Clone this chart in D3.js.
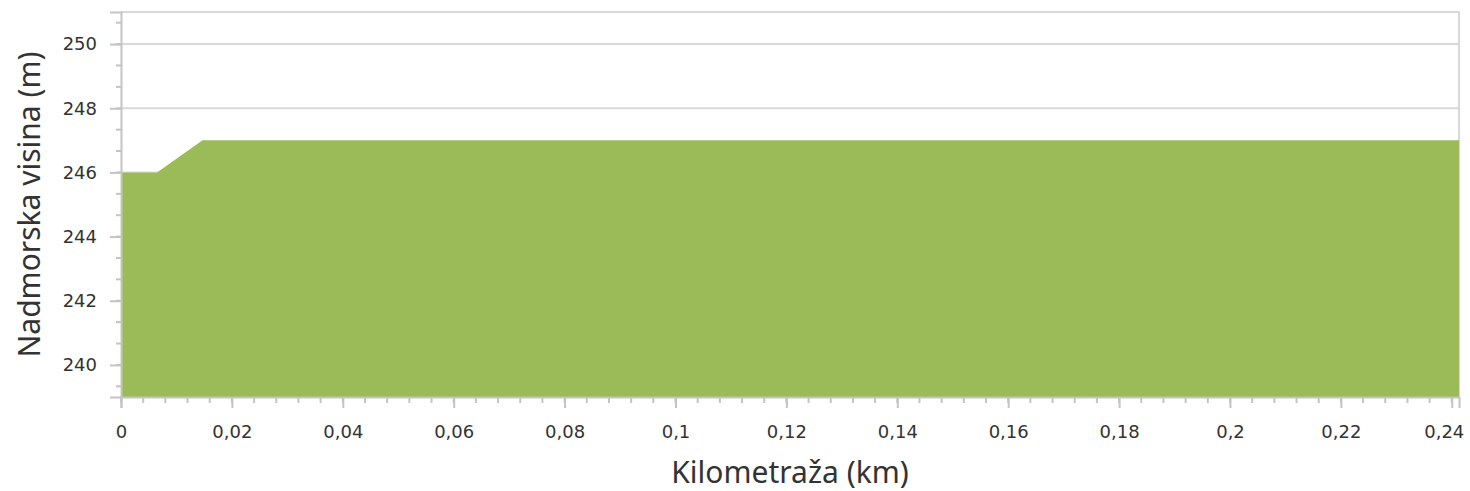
<!DOCTYPE html>
<html>
<head>
<meta charset="utf-8">
<script src="https://cdn.jsdelivr.net/npm/d3@7"></script>
<style>
  html, body { margin: 0; padding: 0; background: #fff; }
  svg { display: block; }
</style>
</head>
<body>
<svg id="chart" width="1470" height="491"></svg>
<script>
// profile data (km, m)
const distances = [0, 0.0065, 0.0147, 0.2413];
const elevations = [246, 246, 247, 247];

const xTickValues = [0, 0.02, 0.04, 0.06, 0.08, 0.1, 0.12, 0.14, 0.16, 0.18, 0.2, 0.22, 0.24];
const yTickValues = [240, 242, 244, 246, 248, 250];

const xTitle = "Kilometraža (km)";
const yTitle = "Nadmorska visina (m)";

const svg = d3.select('#chart');
const margin = { left: 121, right: 11, top: 12, bottom: 94 };
const width = 1470 - margin.left - margin.right;
const height = 491 - margin.top - margin.bottom;

const x = d3.scaleLinear().domain([0, 0.2413]).range([0, width]);
const y = d3.scaleLinear().domain([239, 251]).range([height, 0]);

const g = svg.append("g").attr("transform", `translate(${margin.left},${margin.top})`);

const gridColor = "#d9d9d9";
const tickColor = "#c4c4c4";
const textColor = "#333333";
const fmt = d => String(d).replace(".", ",");

// horizontal grid lines
g.selectAll(".grid")
    .data(yTickValues)
    .enter().append("line")
    .attr("x1", 0)
    .attr("x2", width)
    .attr("y1", d => y(d))
    .attr("y2", d => y(d))
    .attr("stroke", gridColor)
    .attr("stroke-width", 2);

// plot border (top and right)
g.append("path")
    .attr("d", `M0,0H${width}V${height}`)
    .attr("fill", "none")
    .attr("stroke", gridColor)
    .attr("stroke-width", 2);

// elevation area
const points = distances.map((d, i) => [d, elevations[i]]);
const area = d3.area()
    .x(d => x(d[0]))
    .y0(height)
    .y1(d => y(d[1]));

g.append("path")
    .datum(points)
    .attr("d", area)
    .attr("fill", "#9bbb59");

// minor ticks
const xMinor = d3.range(0, 61).map(i => i * 0.004).filter(v => x(v) <= width + 0.5);
const yMinor = d3.range(-1, 18).map(i => 240 + i * 2 / 3).filter(v => v >= 239 && v <= 251);

g.selectAll(".xminor")
    .data(xMinor)
    .enter().append("line")
    .attr("x1", d => x(d))
    .attr("x2", d => x(d))
    .attr("y1", height)
    .attr("y2", height + 6)
    .attr("stroke", tickColor)
    .attr("stroke-width", 2);

g.selectAll(".yminor")
    .data(yMinor)
    .enter().append("line")
    .attr("x1", -5)
    .attr("x2", 0)
    .attr("y1", d => y(d))
    .attr("y2", d => y(d))
    .attr("stroke", tickColor)
    .attr("stroke-width", 2);

// axes
const xAxis = g.append("g")
    .attr("transform", `translate(0,${height})`)
    .call(d3.axisBottom(x).tickValues(xTickValues).tickFormat(fmt).tickSize(11).tickPadding(17));

const yAxis = g.append("g")
    .call(d3.axisLeft(y).tickValues(yTickValues).tickSize(11).tickPadding(13));

[xAxis, yAxis].forEach(ax => {
    ax.select(".domain").attr("stroke", tickColor).attr("stroke-width", 2);
    ax.selectAll(".tick line").attr("stroke", tickColor).attr("stroke-width", 2);
    ax.selectAll(".tick text")
        .attr("fill", textColor)
        .attr("font-family", "DejaVu Sans, sans-serif")
        .attr("font-size", "18px");
});

// last x label is pulled inside so it doesn't run off the edge
xAxis.selectAll(".tick text")
    .filter(d => d === xTickValues[xTickValues.length - 1])
    .attr("text-anchor", "end")
    .attr("x", 12);

// axis titles
svg.append("text")
    .attr("x", margin.left + width / 2)
    .attr("y", 483)
    .attr("text-anchor", "middle")
    .attr("fill", textColor)
    .attr("font-family", "Noto Sans, sans-serif")
    .attr("font-size", "30px")
    .text(xTitle);

svg.append("text")
    .attr("transform", `translate(40,${margin.top + height / 2}) rotate(-90)`)
    .attr("text-anchor", "middle")
    .attr("fill", textColor)
    .attr("font-family", "Noto Sans, sans-serif")
    .attr("font-size", "30px")
    .text(yTitle);
</script>
</body>
</html>
